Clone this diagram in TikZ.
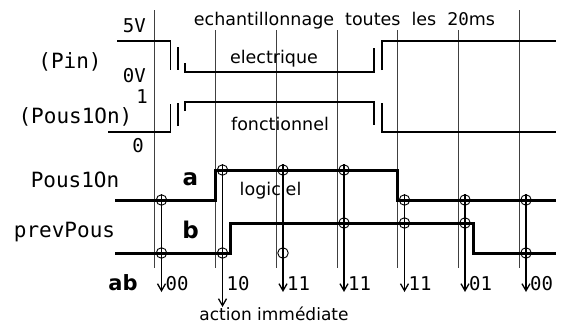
\documentclass[tikz,border=0pt]{standalone}
\usepackage{fontspec}
\setmainfont{DejaVu Sans}
\setmonofont{DejaVu Sans Mono}
\usepackage{tikz}
\usetikzlibrary{arrows.meta}

\begin{document}
\begin{tikzpicture}[x=1pt, y=-1pt,
    grille/.style={black!75, line width=0.8pt},
    signal/.style={line width=1.4pt},
    logique/.style={line width=3pt},
    ech/.style={circle, draw, line width=0.9pt, minimum size=10.5pt, inner sep=0pt},
    fleche/.style={line width=1.3pt, -{Straight Barb[length=7pt, width=8pt]}},
    txt/.style={font=\fontsize{17.5}{20}\selectfont, inner sep=0pt},
    mono/.style={font=\fontsize{21}{24}\ttfamily, inner sep=0pt},
    petit/.style={font=\fontsize{19}{22}\ttfamily, inner sep=0pt},
    gras/.style={font=\fontsize{23}{26}\bfseries, inner sep=0pt}]
    \useasboundingbox (0,0) rectangle (561,324);

    % instants d'echantillonnage
    \draw[grille] (154.5,10) -- (154.5,268);
    \draw[grille] (519,10) -- (519,268);
    \foreach \x in {215.5, 276, 337, 397.5, 458}
        \draw[grille] (\x,30) -- (\x,268);
    \node[txt, anchor=base] (titre) at (344.5,25)
        {echantillonnage\hspace{11pt}toutes\hspace{11pt}les\hspace{11pt}2{\ttfamily 0}ms};

    % niveau electrique
    \node[petit, anchor=base east] (cinqV) at (146,32) {5V};
    \node[petit, anchor=base east] (zeroV) at (146,82) {0V};
    \node[mono, anchor=base] (pin) at (70,68) {(Pin)};
    \draw[signal] (117,41) -- (170.5,41) -- (170.5,70);
    \draw[signal] (178,47) -- (178,70);
    \draw[signal] (185,63) -- (185,72) -- (374,72) -- (374,48);
    \draw[signal] (382,70) -- (382,41) -- (556,41);
    \node[txt, anchor=base] (elec) at (274,63) {electrique};

    % niveau fonctionnel
    \node[petit, anchor=base] (un) at (142,103) {1};
    \node[petit, anchor=base] (zero) at (138,152) {0};
    \node[mono, anchor=base] (pousf) at (75.5,123) {(Pous1On)};
    \draw[signal] (108,132) -- (170.5,132) -- (170.5,104);
    \draw[signal] (178,126) -- (178,103);
    \draw[signal] (185,111) -- (185,102) -- (374,102) -- (374,125);
    \draw[signal] (382,103) -- (382,132) -- (556,132);
    \node[txt, anchor=base] (fonc) at (280,130) {fonctionnel};

    % niveau logiciel
    \node[mono, anchor=base] (pous) at (75,187) {Pous1On};
    \node[mono, anchor=base] (prev) at (64.5,237) {prevPous};
    \node[gras, anchor=base] (a) at (190.5,185) {a};
    \node[gras, anchor=base] (b) at (190.5,238) {b};
    \node[gras, font=\fontsize{21}{24}\bfseries, anchor=base] (ab) at (123,290) {ab};
    \draw[logique] (115,200) -- (215.5,200) -- (215.5,170) -- (397,170) -- (397,200) -- (556,200);
    \draw[logique] (115,253) -- (230,253) -- (230,223) -- (473,223) -- (473,253) -- (556,253);
    \node[txt, anchor=base west] (logi) at (239.5,195) {logiciel};

    % lectures de a et b
    \foreach \x/\ya/\yb/\yf/\v [count=\i] in {161.5/200/253/292/00, 222.5/170/253/307/10,
            283/170/253/292/11, 344/170/223/292/11, 404.5/200/223/292/11,
            465/200/223/292/01, 526/200/253/292/00} {
        \node[ech] (sa\i) at (\x,\ya) {};
        \node[ech] (sb\i) at (\x,\yb) {};
        \coordinate (f\i) at (\x,\yf);
        \draw[fleche] (sa\i.north) -- (f\i);
        \node[font=\fontsize{19}{20}\ttfamily, inner sep=0pt, anchor=base west] (v\i) at (\x+4,290) {\v};
    }
    \node[txt, font=\fontsize{17}{20}\selectfont, anchor=base] (action) at (274,320) {action immédiate};
\end{tikzpicture}
\end{document}
